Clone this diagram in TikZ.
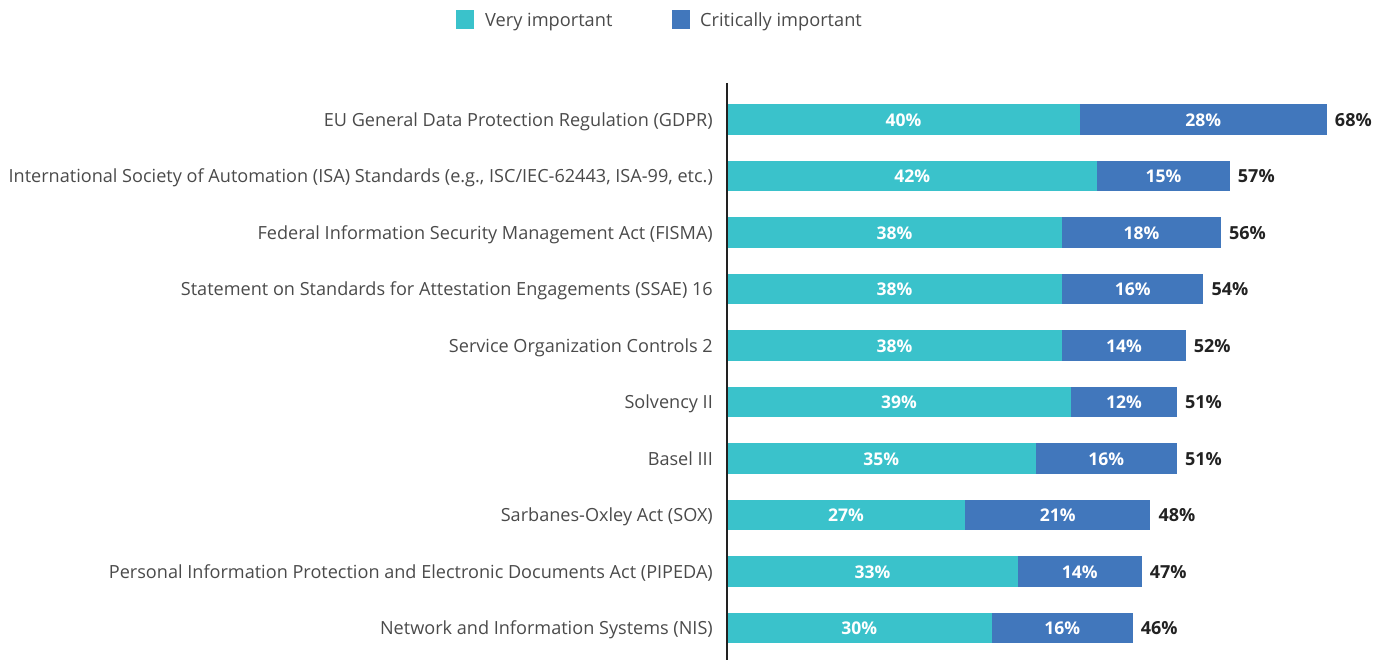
\documentclass[tikz,border=0pt]{standalone}
\usepackage{fontspec}
\setmainfont{Open Sans}
\definecolor{teal1}{HTML}{3AC2CB}
\definecolor{blue1}{HTML}{4177BC}
\definecolor{lbl}{HTML}{4A4A4A}
\definecolor{tot}{HTML}{222222}
\begin{document}
\begin{tikzpicture}[x=1pt,y=-1pt,
  seg/.style={draw=none,minimum height=30.5pt,inner sep=0pt,outer sep=0pt},
  segtext/.style={anchor=base,inner sep=0pt,text=white,font=\fontsize{17.5}{20}\selectfont\bfseries},
  rowlabel/.style={anchor=base east,inner sep=0pt,text=lbl,font=\fontsize{18.1}{20}\selectfont},
  total/.style={anchor=base west,inner sep=0pt,text=tot,font=\fontsize{18}{20}\selectfont\bfseries},
  legtext/.style={anchor=base west,inner sep=0pt,text=lbl,font=\fontsize{18.2}{20}\selectfont},
  legbox/.style={minimum width=18pt,minimum height=19pt,inner sep=0pt}]
\useasboundingbox (0,0) rectangle (1388,660);
\def\u{8.82}
% legend
\node[legbox,fill=teal1] (lv) at (464.5,19.5) {};
\node[legtext] (lvt) at (485,26.7) {Very important};
\node[legbox,fill=blue1] (lc) at (681,19.5) {};
\node[legtext] (lct) at (700,26.7) {Critically important};
% bars
\foreach \i/\lab/\a/\b in {
 1/EU General Data Protection Regulation (GDPR)/40/28,
 2/{International Society of Automation (ISA) Standards (e.g., ISC/IEC-62443, ISA-99, etc.)}/42/15,
 3/Federal Information Security Management Act (FISMA)/38/18,
 4/Statement on Standards for Attestation Engagements (SSAE) 16/38/16,
 5/Service Organization Controls 2/38/14,
 6/Solvency II/39/12,
 7/Basel III/35/16,
 8/Sarbanes-Oxley Act (SOX)/27/21,
 9/Personal Information Protection and Electronic Documents Act (PIPEDA)/33/14,
 10/Network and Information Systems (NIS)/30/16}{
  \pgfmathsetmacro\yy{119.5+(\i-1)*56.5}
  \pgfmathsetmacro\yb{\yy+6.8}
  \pgfmathsetmacro\wa{\a*\u}
  \pgfmathsetmacro\wb{\b*\u}
  \pgfmathtruncatemacro\tt{\a+\b}
  \node[rowlabel] (l\i) at (713,\yb) {\lab};
  \node[seg,fill=teal1,anchor=west,minimum width=\wa pt] (a\i) at (727,\yy) {};
  \node[seg,fill=blue1,anchor=west,minimum width=\wb pt] (b\i) at (a\i.east) {};
  \node[segtext] (at\i) at (a\i.center |- 0,\yb) {\a\%};
  \node[segtext] (bt\i) at (b\i.center |- 0,\yb) {\b\%};
  \node[total] (t\i) at ([xshift=8pt]b\i.east |- 0,\yb) {\tt\%};
}
\coordinate (axt) at (727,83);
\coordinate (axb) at (727,660);
\draw[line width=1.2pt,draw=tot] (axt) -- (axb);
\end{tikzpicture}
\end{document}
